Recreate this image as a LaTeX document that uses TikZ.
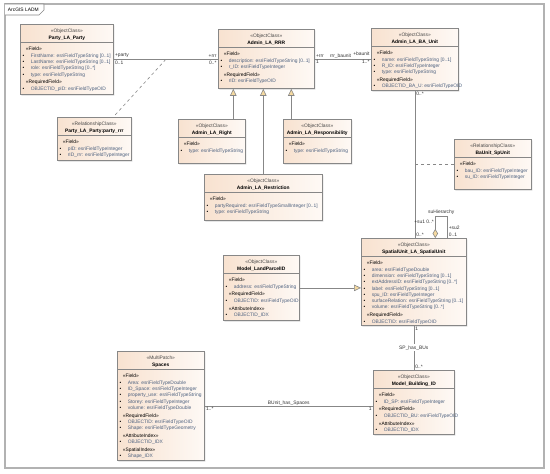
\documentclass[tikz,border=0pt]{standalone}
\usepackage{fontspec}
\setmainfont{Liberation Sans}
\usepackage{xcolor}
\usepackage{tikz}
\usetikzlibrary{shapes.multipart,arrows.meta,shadows,positioning}

\definecolor{clsfill}{RGB}{248,226,208}
\definecolor{clsfill2}{RGB}{254,249,245}
\definecolor{clsline}{RGB}{135,135,135}
\definecolor{fieldc}{RGB}{78,98,128}
\definecolor{stc}{RGB}{70,70,70}
\definecolor{tipc}{RGB}{246,218,160}

% header and body of a class box
\newcommand{\hdr}[3]{\parbox[t][17pt][t]{#1pt}{\centering\vspace*{3.8pt}\strut\textcolor{stc}{«#2»}\\\textbf{#3}\strut}}
\newcommand{\bdy}[3]{\parbox[t][#2pt][t]{#1pt}{\vspace*{2.7pt}#3}}
\newcommand{\sect}[1]{\par\vspace{1.5pt}\mbox{\strut\hspace{5.5pt}«#1»}}
\newcommand{\fld}[1]{\par\mbox{\strut\hspace{2.3pt}\makebox[8.2pt][l]{•}\textcolor{fieldc}{#1}}}

\begin{document}
\begin{tikzpicture}[
    x=1pt,y=-1pt,
    cls/.style={rectangle split, rectangle split parts=2, draw=clsline, line width=.6pt,
      inner sep=0pt, anchor=north west, left color=clsfill, right color=clsfill2,
      drop shadow={shadow xshift=1pt,shadow yshift=-1pt,opacity=.25,fill=black!60},
      font=\fontsize{4.9}{6.3}\selectfont},
    assoc/.style={draw=clsline, line width=.6pt},
    rel/.style={assoc, dashed},
    gen/.style={assoc, -{Triangle[length=7pt,width=6.5pt,fill=tipc]}},
    agg/.style={assoc, {Diamond[length=9pt,width=5.5pt,fill=tipc]}-},
    lbl/.style={font=\fontsize{4.9}{6}\selectfont, text=black!80, inner sep=1.2pt},
    diagframe/.style={draw=gray!60, line width=1.4pt},
  ]
  \useasboundingbox (0,0) rectangle (550,474);

  \draw[diagframe] (5,4) rectangle (544,468);
  \draw[clsline, fill=white, line width=.6pt] (5,4) -- (44,4) -- (44,10) -- (39,15) -- (5,15);
  \node[lbl, anchor=west, text=black] (title) at (6.5,9.6) {ArcGIS LADM};

  \node[cls] (party) at (20,24) {\hdr{93}{ObjectClass}{Party\_LA\_Party}\nodepart{two}\bdy{93}{52}{%
    \sect{Field}
    \fld{FirstName: esriFieldTypeString [0..1]}
    \fld{LastName: esriFieldTypeString [0..1]}
    \fld{role: esriFieldTypeString [0..*]}
    \fld{type: esriFieldTypeString}
    \sect{RequiredField}
    \fld{OBJECTID\_pID: esriFieldTypeOID}}};

  \node[cls] (rrr) at (218,29) {\hdr{96}{ObjectClass}{Admin\_LA\_RRR}\nodepart{two}\bdy{96}{41}{%
    \sect{Field}
    \fld{description: esriFieldTypeString [0..1]}
    \fld{r\_ID: esriFieldTypeInteger}
    \sect{RequiredField}
    \fld{rID: esriFieldTypeOID}}};

  \node[cls] (baunit) at (371,28) {\hdr{87}{ObjectClass}{Admin\_LA\_BA\_Unit}\nodepart{two}\bdy{87}{44}{%
    \sect{Field}
    \fld{name: esriFieldTypeString [0..1]}
    \fld{R\_ID: esriFieldTypeInteger}
    \fld{type: esriFieldTypeString}
    \sect{RequiredField}
    \fld{OBJECTID\_BA\_U: esriFieldTypeOID}}};

  \node[cls] (partyrrr) at (57,117) {\hdr{74}{RelationshipClass}{Party\_LA\_Party:party\_rrr}\nodepart{two}\bdy{74}{25}{%
    \sect{Field}
    \fld{pID: esriFieldTypeInteger}
    \fld{rID\_rrr: esriFieldTypeInteger}}};

  \node[cls] (right) at (178,119) {\hdr{67}{ObjectClass}{Admin\_LA\_Right}\nodepart{two}\bdy{67}{26}{%
    \sect{Field}
    \fld{type: esriFieldTypeString}}};

  \node[cls] (resp) at (283,119) {\hdr{68}{ObjectClass}{Admin\_LA\_Responsibility}\nodepart{two}\bdy{68}{26}{%
    \sect{Field}
    \fld{type: esriFieldTypeString}}};

  \node[cls] (restriction) at (204,174) {\hdr{118}{ObjectClass}{Admin\_LA\_Restriction}\nodepart{two}\bdy{118}{28}{%
    \sect{Field}
    \fld{partyRequired: esriFieldTypeSmallInteger [0..1]}
    \fld{type: esriFieldTypeString}}};

  \node[cls] (bsu) at (454,139) {\hdr{77}{RelationshipClass}{BaUnit\_SpUnit}\nodepart{two}\bdy{77}{32}{%
    \sect{Field}
    \fld{bau\_ID: esriFieldTypeInteger}
    \fld{su\_ID: esriFieldTypeInteger}}};

  \node[cls] (su) at (361,238) {\hdr{105}{ObjectClass}{SpatialUnit\_LA\_SpatialUnit}\nodepart{two}\bdy{105}{69}{%
    \sect{Field}
    \fld{area: esriFieldTypeDouble}
    \fld{dimension: esriFieldTypeString [0..1]}
    \fld{extAddressID: esriFieldTypeString [0..*]}
    \fld{label: esriFieldTypeString [0..1]}
    \fld{spu\_ID: esriFieldTypeInteger}
    \fld{surfaceRelation: esriFieldTypeString [0..1]}
    \fld{volume: esriFieldTypeString [0..*]}
    \sect{RequiredField}
    \fld{OBJECTID: esriFieldTypeOID}}};

  \node[cls] (parcel) at (223,255) {\hdr{76}{ObjectClass}{Model\_LandParcelID}\nodepart{two}\bdy{76}{47}{%
    \sect{Field}
    \fld{address: esriFieldTypeString}
    \sect{RequiredField}
    \fld{OBJECTID: esriFieldTypeOID}
    \sect{AttributeIndex}
    \fld{OBJECTID\_IDX}}};

  \node[cls] (building) at (373,370) {\hdr{81}{ObjectClass}{Model\_Building\_ID}\nodepart{two}\bdy{81}{46}{%
    \sect{Field}
    \fld{ID\_SP: esriFieldTypeInteger}
    \sect{RequiredField}
    \fld{OBJECTID\_BU: esriFieldTypeOID}
    \sect{AttributeIndex}
    \fld{OBJECTID\_IDX}}};

  \node[cls] (spaces) at (117,351) {\hdr{87}{MultiPatch}{Spaces}\nodepart{two}\bdy{87}{91}{%
    \sect{Field}
    \fld{Area: esriFieldTypeDouble}
    \fld{ID\_Space: esriFieldTypeInteger}
    \fld{property\_use: esriFieldTypeString}
    \fld{Storey: esriFieldTypeInteger}
    \fld{volume: esriFieldTypeDouble}
    \sect{RequiredField}
    \fld{OBJECTID: esriFieldTypeOID}
    \fld{Shape: esriFieldTypeGeometry}
    \sect{AttributeIndex}
    \fld{OBJECTID\_IDX}
    \sect{SpatialIndex}
    \fld{Shape\_IDX}}};

  % associations
  \draw[assoc] (party.east) -- (rrr.west |- party.east)
    node[lbl, pos=0, above right] {+party}
    node[lbl, pos=0, below right] {0..1}
    node[lbl, pos=1, above left] {+rrr}
    node[lbl, pos=1, below left] {0..*}
    coordinate[pos=.5] (prmid);
  \draw[rel] (prmid) -- ([xshift=19pt]partyrrr.north);

  \draw[assoc] (rrr.east) -- (baunit.west |- rrr.east)
    node[lbl, pos=0, above right] {+rrr}
    node[lbl, pos=0, below right] {1}
    node[lbl, pos=.46, above, inner sep=.4pt] {rrr\_baunit}
    node[lbl, pos=1, above left, yshift=1.5pt] {+baunit}
    node[lbl, pos=1, below left] {1..*};

  \draw[assoc] (baunit.south) -- (baunit.south |- su.north)
    node[lbl, pos=0, below right] {0..*}
    node[lbl, pos=1, above right] {0..*};
  \draw[rel] (bsu.west) -- (bsu.west -| baunit.south);

  \draw[agg] ([xshift=21.5pt]su.north) -- ++(0,-22)
    node[lbl, pos=.73, left] {+su1 0..*}
    -| ([xshift=33.5pt]su.north)
    node[lbl, pos=.25, above] {suHierarchy}
    node[lbl, pos=.77, right] {+su2}
    node[lbl, pos=1, above right] {0..1};

  \draw[assoc] (su.south) -- (su.south |- building.north)
    node[lbl, pos=0, below right] {1}
    node[lbl, midway, fill=white] {SP\_has\_BUs}
    node[lbl, pos=1, above right] {0..*};

  \draw[assoc] (spaces.east) -- (spaces.east -| building.west)
    node[lbl, pos=0, below right] {1..*}
    node[lbl, midway, above, inner sep=.5pt] {BUnit\_has\_Spaces}
    node[lbl, pos=1, below left] {1};

  % generalizations
  \draw[gen] ([xshift=21.5pt]right.north) -- ([xshift=21.5pt]right.north |- rrr.south);
  \draw[gen] (restriction.north) -- (restriction.north |- rrr.south);
  \draw[gen] ([xshift=-26pt]resp.north) -- ([xshift=-26pt]resp.north |- rrr.south);
  \draw[gen] (parcel.east) -- (parcel.east -| su.west);
\end{tikzpicture}
\end{document}
